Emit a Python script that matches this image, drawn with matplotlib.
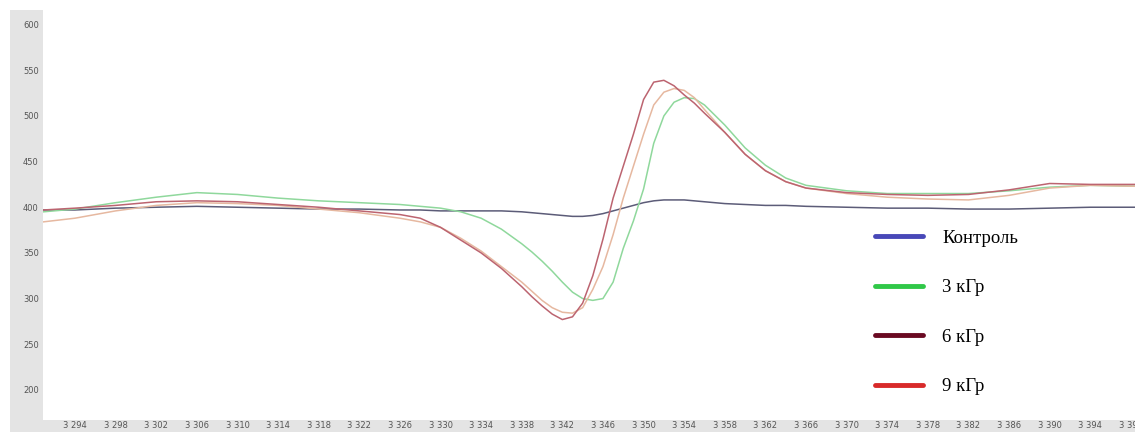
import matplotlib.pyplot as plt
from matplotlib.lines import Line2D
from matplotlib.patches import Rectangle
from matplotlib.ticker import FuncFormatter

# magnetic field and signal for each sample
field = [3290.9, 3294, 3298, 3302, 3306, 3310, 3314, 3318, 3322, 3326, 3328, 3330,
         3332, 3334, 3336, 3338, 3339, 3340, 3341, 3342, 3343, 3344, 3345, 3346,
         3347, 3348, 3349, 3350, 3351, 3352, 3353, 3354, 3355, 3356, 3358, 3360,
         3362, 3364, 3366, 3370, 3374, 3378, 3382, 3386, 3390, 3394, 3398.4]

control = [397, 397, 399, 400, 401, 400, 399, 398, 398, 397, 397, 396,
           396, 396, 396, 395, 394, 393, 392, 391, 390, 390, 391, 393,
           396, 399, 402, 405, 407, 408, 408, 408, 407, 406, 404, 403,
           402, 402, 401, 400, 399, 399, 398, 398, 399, 400, 400]

kgy3 = [395, 398, 405, 411, 416, 414, 410, 407, 405, 403, 401, 399,
        395, 388, 376, 360, 351, 341, 330, 318, 307, 300, 298, 300,
        318, 355, 385, 420, 470, 500, 515, 520, 519, 512, 490, 465,
        446, 432, 424, 418, 415, 415, 415, 418, 422, 424, 423]

kgy6 = [384, 388, 396, 402, 405, 404, 402, 398, 394, 388, 384, 378,
        366, 352, 335, 318, 308, 298, 290, 285, 284, 290, 310, 335,
        370, 410, 445, 480, 512, 526, 530, 528, 520, 507, 482, 458,
        440, 428, 421, 415, 411, 409, 408, 413, 421, 424, 423]

kgy9 = [397, 399, 402, 406, 407, 406, 403, 400, 396, 392, 388, 378,
        364, 350, 333, 313, 302, 292, 283, 277, 280, 295, 325, 365,
        410, 445, 480, 518, 537, 539, 533, 523, 514, 503, 482, 458,
        440, 428, 421, 416, 414, 413, 414, 419, 426, 425, 425]

series = [("Контроль", control, "#5c5c78", "#4848b8"),
          ("3 кГр", kgy3, "#8fd89c", "#30c848"),
          ("6 кГр", kgy6, "#e6b8a0", "#6a0a22"),
          ("9 кГр", kgy9, "#bc6470", "#d82a2a")]

yticks = list(range(200, 601, 50))
xticks = list(range(3294, 3399, 4))

W, H = 1135, 432
fig = plt.figure(figsize=(W / 100, H / 100), dpi=100)
fig.patches.append(Rectangle((10 / W, 0), 1, (H - 10) / H, transform=fig.transFigure,
                             facecolor="#e4e4e4", edgecolor="none", zorder=-10))
ax = fig.add_axes([43 / W, 12 / H, (W - 43) / W, 410 / H])
ax.set_facecolor("white")

for name, vals, c, _ in series:
    ax.plot(field, vals, color=c, lw=1.1)

ax.set_xlim(3290.85, 3398.4)
ax.set_ylim(167, 616)
ax.set_yticks(yticks)
ax.set_xticks(xticks)
ax.xaxis.set_major_formatter(FuncFormatter(lambda v, p: f"{int(v):,}".replace(",", " ")))
ax.tick_params(length=0, labelsize=6, labelcolor="#555555")
ax.tick_params(axis="y", pad=3)
ax.tick_params(axis="x", pad=1)
for s in ax.spines.values():
    s.set_visible(False)

handles = [Line2D([], [], color=lc, lw=3.5, solid_capstyle="round") for _, _, _, lc in series]
labels = [name for name, _, _, _ in series]
ax.legend(handles, labels, loc="upper left", bbox_to_anchor=(0.746, 0.505),
          frameon=False, handlelength=2.6, handletextpad=1.0, labelspacing=1.72,
          prop={"family": "Liberation Serif", "size": 13.5})

fig.savefig("out.png", dpi=100)
